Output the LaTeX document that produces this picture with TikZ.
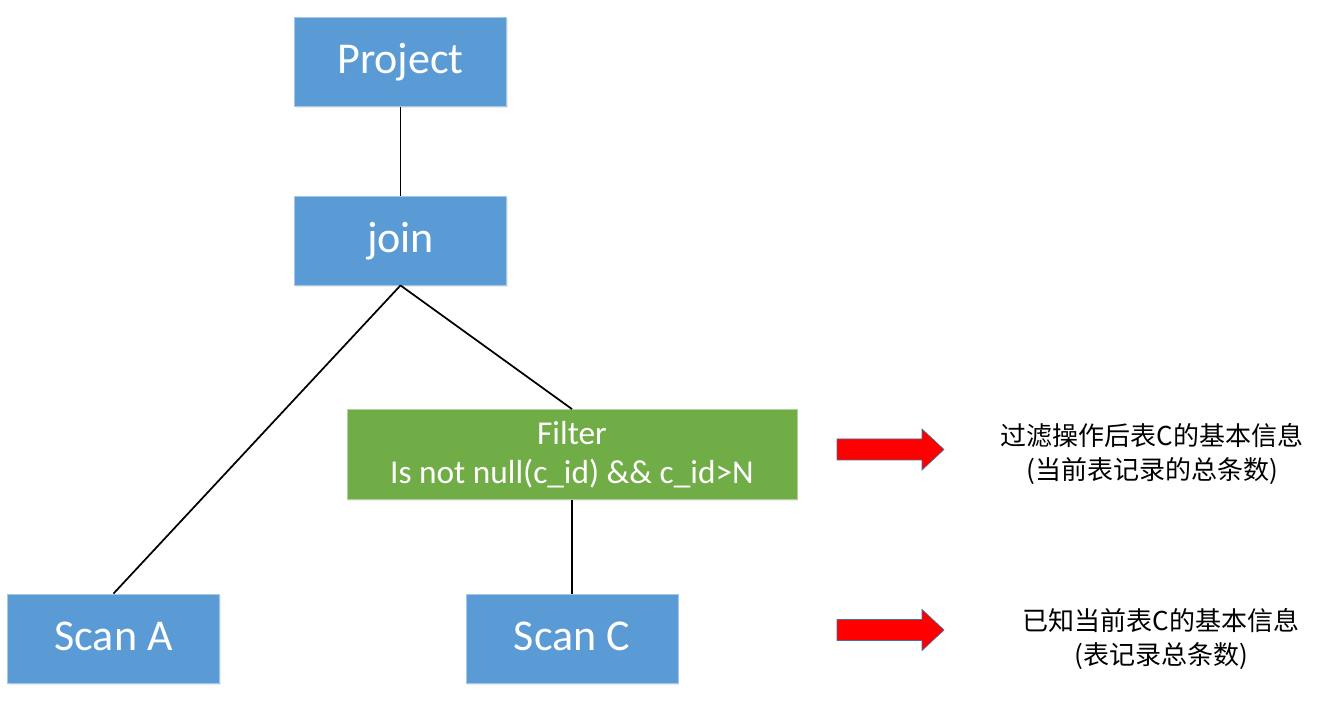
\documentclass[tikz,border=0pt]{standalone}
\usepackage{fontspec}
\setmainfont{Carlito}
\newfontfamily\cjk{Noto Sans CJK SC}
\usepackage{tikz}
\usetikzlibrary{shadows}
\definecolor{opblue}{HTML}{5B9BD5}
\definecolor{opgreen}{HTML}{70AD47}
\definecolor{arrowedge}{HTML}{41719C}

\begin{document}
\begin{tikzpicture}[x=0.75pt, y=-0.75pt,
    op/.style={rectangle, fill=opblue, draw=opblue!55, line width=0.6pt,
      text=white, inner sep=0pt, minimum width=159pt, minimum height=66.75pt,
      text height=24pt, text depth=6pt,
      font=\fontsize{33}{36}\selectfont,
      drop shadow={opacity=0.15, shadow xshift=1pt, shadow yshift=-1.5pt}},
    filterop/.style={op, fill=opgreen, draw=opgreen!55, align=center,
      minimum width=337.5pt, minimum height=67.5pt,
      text height=, text depth=,
      font=\fontsize{25}{29.5}\selectfont},
    link/.style={draw=black, line width=1.3pt},
    bigarrow/.style={fill=red, draw=arrowedge, line width=0.5pt, line join=miter},
    info/.style={align=center, inner sep=0pt, font=\cjk\fontsize{19.5}{26}\selectfont}]
  \useasboundingbox (0, 0) rectangle (1322, 705);

  % operator tree
  \node [op] (project) at (400.5, 62) {Project};
  \node [op] (join) at (400.5, 240.5) {join};
  \node [filterop] (filter) at (572, 454.5) {Filter\\Is not null(c\_id) \&\& c\_id>N};
  \node [op] (scana) at (113.5, 638.5) {Scan A};
  \node [op] (scanc) at (572, 638.5) {Scan C};

  \draw [link] (project) -- (join);
  \draw [link] (join.south) -- (scana.north);
  \draw [link] (join.south) -- (filter.north);
  \draw [link] (filter) -- (scanc);

  % statistics on the right
  \filldraw [bigarrow] (837, 439) -- (922, 439) -- (922, 429) -- (944, 449.5)
    -- (922, 470) -- (922, 460) -- (837, 460) -- cycle;
  \node [info] (filterinfo) at (1152, 454) {过滤操作后表C的基本信息\\(当前表记录的总条数)};
  \begin{scope}[shift={(0, 180.5)}]
    \filldraw [bigarrow] (837, 439) -- (922, 439) -- (922, 429) -- (944, 449.5)
      -- (922, 470) -- (922, 460) -- (837, 460) -- cycle;
  \end{scope}
  \node [info] (scaninfo) at (1161, 639) {已知当前表C的基本信息\\(表记录总条数)};
\end{tikzpicture}
\end{document}
